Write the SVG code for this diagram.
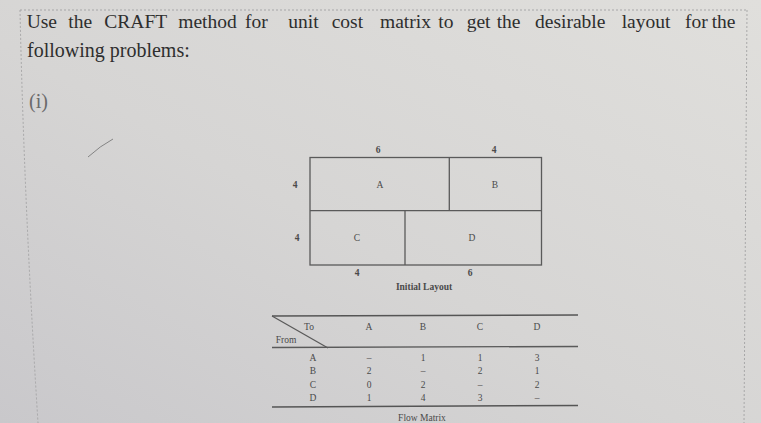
<svg xmlns="http://www.w3.org/2000/svg" width="761" height="423" viewBox="0 0 761 423">
<defs>
<linearGradient id="bg" x1="1" y1="0" x2="0" y2="1">
<stop offset="0" stop-color="#e0dfdc"/>
<stop offset="0.55" stop-color="#d6d5d4"/>
<stop offset="1" stop-color="#c9c8cb"/>
</linearGradient>
<style>
.t{font-family:"Liberation Serif","Times New Roman",serif;fill:#2e2e2e}
.s{font-family:"Liberation Serif","Times New Roman",serif;fill:#4a4a4a;font-size:9.5px;text-anchor:middle}
.b{font-weight:bold}
.ln{stroke:#5a5a5a;stroke-width:1.3;fill:none}
.tl{stroke:#555;stroke-width:1.5;fill:none}
.brd{stroke:#9a9a9c;stroke-width:0.8;stroke-dasharray:2 2;fill:none}
</style>
</defs>
<rect width="761" height="423" fill="url(#bg)"/>
<g id="border">
<path class="brd" d="M20,10 L747,10"/>
<path class="brd" d="M20,10 Q24,200 38,423"/>
<path class="brd" d="M747,10 L744,423"/>
</g>
<g id="title">
<text class="t" font-size="19.5" y="28">
<tspan x="26.7">Use</tspan><tspan x="68.3">the</tspan><tspan x="104.3">CRAFT</tspan><tspan x="178.3">method</tspan><tspan x="245">for</tspan><tspan x="288.3">unit</tspan><tspan x="331.7">cost</tspan><tspan x="380">matrix</tspan><tspan x="438.3">to</tspan><tspan x="466.7">get</tspan><tspan x="496.7">the</tspan><tspan x="535">desirable</tspan><tspan x="621.7">layout</tspan><tspan x="685">for</tspan><tspan x="711.7">the</tspan>
</text>
<text class="t" font-size="20" x="27" y="57">following problems:</text>
<text class="t" font-size="20" x="29" y="108" style="fill:#6a6a6a">(i)</text>
</g>
<path id="pen-stroke" d="M88,157 Q100,146 113,139" stroke="#7a7a7a" stroke-width="0.9" fill="none"/>
<g id="initial-layout">
<rect class="ln" x="310" y="157.5" width="231.5" height="107.5"/>
<line class="ln" x1="310" y1="210.7" x2="541.5" y2="210.7"/>
<line class="ln" x1="449.3" y1="157.5" x2="449.3" y2="210.7"/>
<line class="ln" x1="405" y1="210.7" x2="405" y2="265"/>
<text class="s b" x="378" y="153">6</text>
<text class="s b" x="494" y="153">4</text>
<text class="s b" x="295" y="188">4</text>
<text class="s" x="380" y="188">A</text>
<text class="s" x="495" y="188">B</text>
<text class="s b" x="297" y="241">4</text>
<text class="s" x="357" y="241">C</text>
<text class="s" x="472" y="241">D</text>
<text class="s b" x="357" y="276">4</text>
<text class="s b" x="470" y="276">6</text>
<text class="s b" x="424" y="289.5" font-size="10.5">Initial Layout</text>
</g>
<g id="flow-matrix">
<line class="tl" x1="272" y1="316" x2="578" y2="315"/>
<line class="ln" x1="272" y1="316" x2="328" y2="348"/>
<line class="ln" x1="272" y1="347.5" x2="578" y2="346.5"/>
<line class="tl" x1="272" y1="407" x2="578" y2="405.5"/>
<text class="s" x="309" y="330">To</text>
<text class="s" x="286" y="343">From</text>
<text class="s" x="369" y="330">A</text>
<text class="s" x="423" y="330">B</text>
<text class="s" x="480" y="330">C</text>
<text class="s" x="537" y="330">D</text>
<text class="s" x="313" y="360.5">A</text>
<text class="s" x="313" y="374">B</text>
<text class="s" x="313" y="387.5">C</text>
<text class="s" x="313" y="401">D</text>
<text class="s" x="369" y="360.5">–</text>
<text class="s" x="423" y="360.5">1</text>
<text class="s" x="480" y="360.5">1</text>
<text class="s" x="537" y="360.5">3</text>
<text class="s" x="369" y="374">2</text>
<text class="s" x="423" y="374">–</text>
<text class="s" x="480" y="374">2</text>
<text class="s" x="537" y="374">1</text>
<text class="s" x="369" y="387.5">0</text>
<text class="s" x="423" y="387.5">2</text>
<text class="s" x="480" y="387.5">–</text>
<text class="s" x="537" y="387.5">2</text>
<text class="s" x="369" y="401">1</text>
<text class="s" x="423" y="401">4</text>
<text class="s" x="480" y="401">3</text>
<text class="s" x="537" y="401">–</text>
<text class="s" x="422" y="421" font-size="9">Flow Matrix</text>
</g>
</svg>
